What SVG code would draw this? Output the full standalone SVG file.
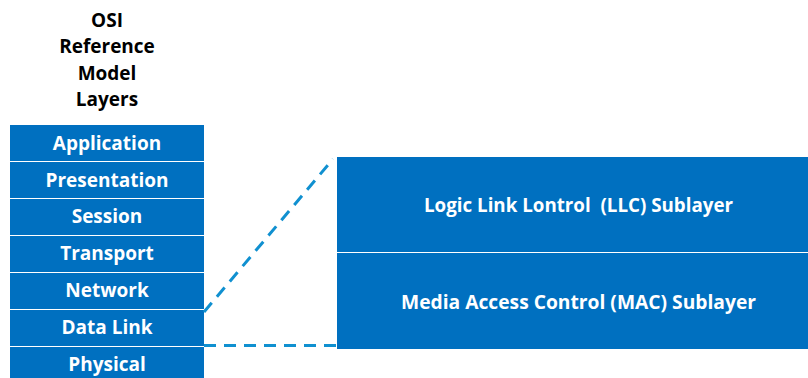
<svg xmlns="http://www.w3.org/2000/svg" width="808" height="378" viewBox="0 0 808 378">
  <style>
    .box { fill: #0070C0; }
    .lbl { fill: #ffffff; font-family: "Open Sans", "Liberation Sans", sans-serif; font-weight: bold; font-size: 19px; text-anchor: middle; white-space: pre; }
    .wide { font-size: 19.4px; }
    .title { fill: #000000; font-family: "Open Sans", "Liberation Sans", sans-serif; font-weight: bold; font-size: 19px; text-anchor: middle; }
    .dash { fill: none; stroke: #1090D0; stroke-width: 3; stroke-dasharray: 12 8; }
  </style>
  <rect width="808" height="378" fill="#ffffff"/>

  <g id="title">
    <text class="title" x="107" y="27">OSI</text>
    <text class="title" x="107" y="53">Reference</text>
    <text class="title" x="107" y="80">Model</text>
    <text class="title" x="107" y="106">Layers</text>
  </g>

  <!-- OSI layer stack -->
  <g id="application"><rect class="box" x="10" y="125" width="194" height="36"/><text class="lbl" x="107" y="149.5">Application</text></g>
  <g id="presentation"><rect class="box" x="10" y="162" width="194" height="36"/><text class="lbl" x="107" y="186.5">Presentation</text></g>
  <g id="session"><rect class="box" x="10" y="199" width="194" height="36"/><text class="lbl" x="107" y="223">Session</text></g>
  <g id="transport"><rect class="box" x="10" y="236" width="194" height="36"/><text class="lbl" x="107" y="260">Transport</text></g>
  <g id="network"><rect class="box" x="10" y="273" width="194" height="36"/><text class="lbl" x="107" y="297">Network</text></g>
  <g id="datalink"><rect class="box" x="10" y="310" width="194" height="36"/><text class="lbl" x="107" y="334">Data Link</text></g>
  <g id="physical"><rect class="box" x="10" y="347" width="194" height="36"/><text class="lbl" x="107" y="371">Physical</text></g>

  <!-- Data link sublayers -->
  <g id="llc"><rect class="box" x="337" y="157" width="471" height="95"/><text class="lbl wide" x="578.5" y="212" textLength="309" lengthAdjust="spacingAndGlyphs">Logic Link Lontrol  (LLC) Sublayer</text></g>
  <g id="mac"><rect class="box" x="337" y="253" width="471" height="96"/><text class="lbl wide" x="578.5" y="309" textLength="355" lengthAdjust="spacingAndGlyphs">Media Access Control (MAC) Sublayer</text></g>

  <g id="connectors">
    <line class="dash" x1="204" y1="312" x2="333" y2="159"/>
    <line class="dash" x1="204" y1="345.5" x2="337" y2="345.5"/>
  </g>
</svg>
